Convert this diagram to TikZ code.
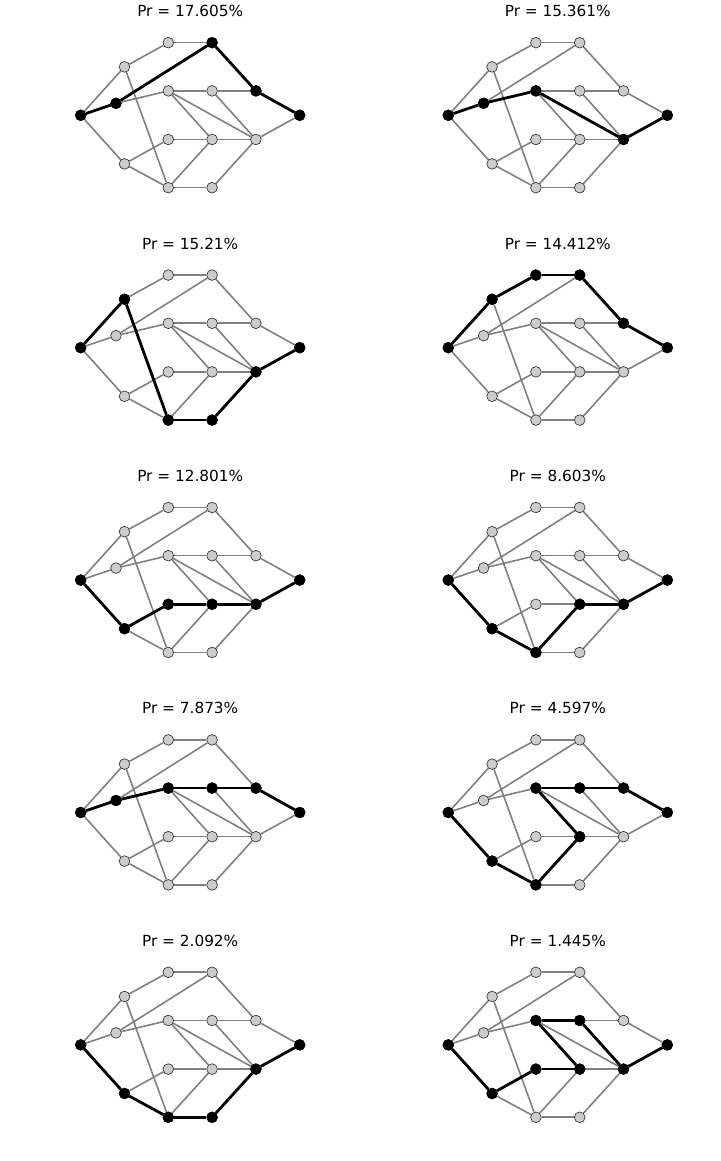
\documentclass[tikz,border=0pt]{standalone}
\usepackage{fontspec}
\setmainfont{DejaVu Sans}
\usetikzlibrary{backgrounds}
\tikzset{
  vtx/.style={circle, draw=black!85, line width=0.6pt, fill=black!20, inner sep=0pt, minimum size=10.7pt},
  hotvtx/.style={vtx, fill=black, draw=black},
  edge/.style={draw=black!50, line width=1.6pt},
  hotedge/.style={draw=black, line width=2.8pt},
  ttl/.style={font=\fontsize{15.3}{18}\selectfont, anchor=base, inner sep=0pt}
}
\newcommand\drawpanel[6]{%
  \begin{scope}[shift={(#2,#3)}]
    \node[ttl] (#1title) at (109.5,98.6) {Pr = #4\%};
    \foreach \n/\px/\py in {S/0/0, A/43.8/48.4, B/35.3/12, C/43.8/-48.6,
        D/87.6/72.6, E/131.4/72.6, F/87.6/24.4, G/131.4/24.4, H/175.2/24.4,
        I/87.6/-24.2, J/131.4/-24.2, K/175.2/-24.2, L/87.6/-72.4, M/131.4/-72.4, T/219/0}
      \node[vtx] (#1\n) at (\px,\py) {};
    \foreach \n in {#5}
      \node[hotvtx] (#1\n h) at (#1\n) {};
    \begin{pgfonlayer}{background}
      \foreach \a/\b in {S/A,S/B,S/C,A/D,A/L,B/E,B/F,C/I,C/L,D/E,E/H,F/G,F/J,F/K,
          G/H,G/K,I/J,J/K,J/L,L/M,M/K,H/T,K/T}
        \draw[edge] (#1\a) -- (#1\b);
      \foreach \a/\b in {#6}
        \draw[hotedge] (#1\a) -- (#1\b);
    \end{pgfonlayer}
  \end{scope}%
}
\begin{document}
\begin{tikzpicture}[x=1pt,y=1pt]
  \useasboundingbox (0,0) rectangle (720,1161);
  \drawpanel{p1}{80.7}{1045.7}{17.605}{S,B,E,H,T}{S/B,B/E,E/H,H/T}
  \drawpanel{p2}{448.3}{1045.7}{15.361}{S,B,F,K,T}{S/B,B/F,F/K,K/T}
  \drawpanel{p3}{80.7}{813.3}{15.21}{S,A,L,M,K,T}{S/A,A/L,L/M,M/K,K/T}
  \drawpanel{p4}{448.3}{813.3}{14.412}{S,A,D,E,H,T}{S/A,A/D,D/E,E/H,H/T}
  \drawpanel{p5}{80.7}{580.9}{12.801}{S,C,I,J,K,T}{S/C,C/I,I/J,J/K,K/T}
  \drawpanel{p6}{448.3}{580.9}{8.603}{S,C,L,J,K,T}{S/C,C/L,L/J,J/K,K/T}
  \drawpanel{p7}{80.7}{348.5}{7.873}{S,B,F,G,H,T}{S/B,B/F,F/G,G/H,H/T}
  \drawpanel{p8}{448.3}{348.5}{4.597}{S,C,L,J,F,G,H,T}{S/C,C/L,L/J,J/F,F/G,G/H,H/T}
  \drawpanel{p9}{80.7}{116.1}{2.092}{S,C,L,M,K,T}{S/C,C/L,L/M,M/K,K/T}
  \drawpanel{p10}{448.3}{116.1}{1.445}{S,C,I,J,F,G,K,T}{S/C,C/I,I/J,J/F,F/G,G/K,K/T}
\end{tikzpicture}
\end{document}
